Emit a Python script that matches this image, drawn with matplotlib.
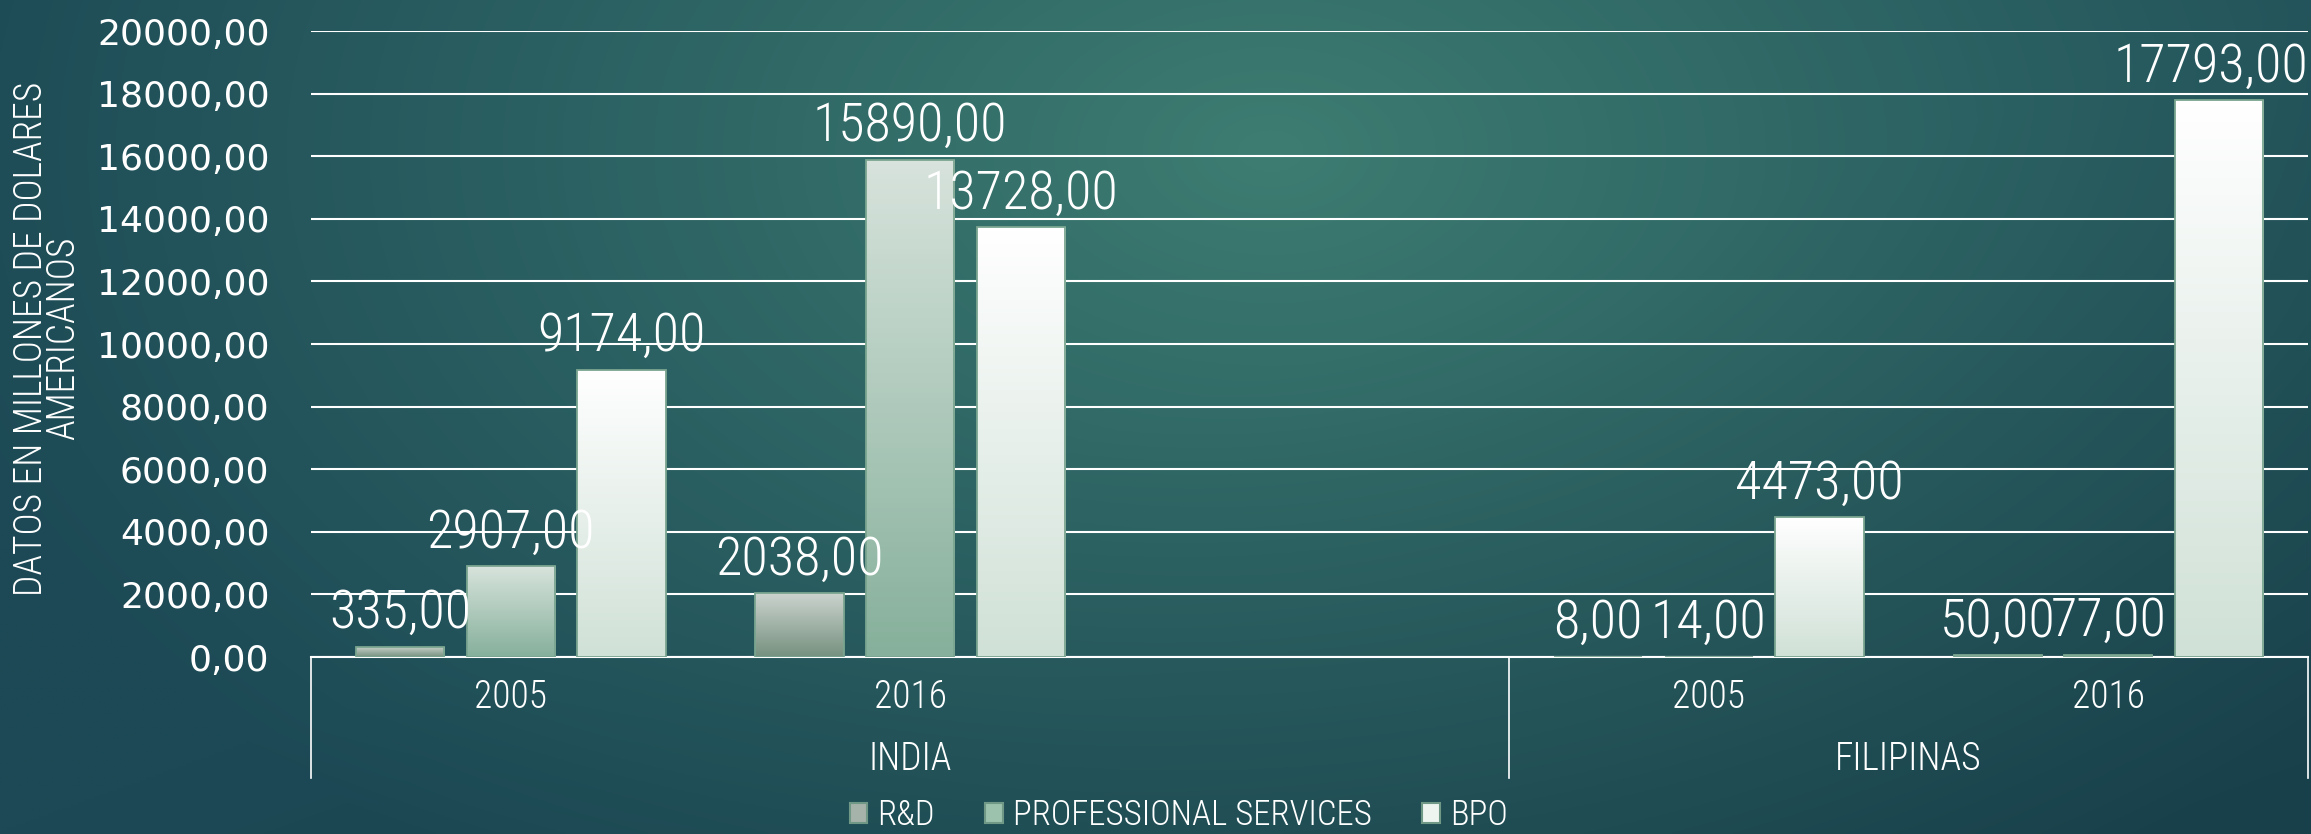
import numpy as np
import matplotlib.pyplot as plt
from matplotlib.patches import Patch
from matplotlib.colors import to_rgb

# categories (slot 3 of INDIA is empty in the original chart)
years = ['2005', '2016', '', '2005', '2016']
groups = ['INDIA', 'FILIPINAS']
series = ['R&D', 'PROFESSIONAL SERVICES', 'BPO']
rd = [335, 2038, np.nan, 8, 50]
prof = [2907, 15890, np.nan, 14, 77]
bpo = [9174, 13728, np.nan, 4473, 17793]
yticks = list(range(0, 20001, 2000))

# gradient colours (top, bottom) per series
grads = [('#cbd3ce', '#76917f'), ('#d7e3dc', '#86b09b'), ('#ffffff', '#d0e1d7')]
legend_cols = ['#a6b3ab', '#9cc1ad', '#eef5f1']

plt.rcParams['font.family'] = ['DejaVu Sans']
narrow = ['Roboto Condensed', 'Open Sans Condensed', 'Liberation Sans Narrow', 'Roboto', 'DejaVu Sans']

fig = plt.figure(figsize=(23.11, 8.34), dpi=100)

# background
bg = fig.add_axes([0, 0, 1, 1], zorder=-5)
yy, xx = np.mgrid[0:1:300j, 0:1:800j]
d = np.sqrt(((xx - 0.55) / 0.6) ** 2 + ((yy - 0.18) / 1.05) ** 2)
t = np.clip(d, 0, 1) ** 0.9
light = np.array(to_rgb('#3e7e72'))
dark = np.array(to_rgb('#1c4955'))
img = light * (1 - t[..., None]) + dark * t[..., None]
shade = np.clip((xx + yy - 1.0) * 0.12, 0, 1)[..., None]
img = img * (1 - shade)
bg.imshow(img, aspect='auto', extent=[0, 1, 0, 1])
bg.axis('off')

ax = fig.add_axes([0.1346, 0.2122, 0.8641, 0.7506])
ax.set_facecolor('none')

x = np.arange(len(years))
w = 0.221
step = 0.277
labels = []
for i, (vals, (top, bot)) in enumerate(zip([rd, prof, bpo], grads)):
    bars = ax.bar(x + (i - 1) * step, vals, w, facecolor='none',
                  edgecolor='#7aa590', linewidth=1.3, zorder=4)
    g = np.linspace(0, 1, 100)[:, None, None]
    col = np.array(to_rgb(top)) * (1 - g) + np.array(to_rgb(bot)) * g
    for rect, v in zip(bars, vals):
        if np.isnan(v):
            rect.set_visible(False)
            continue
        bx, by, bw, bh = rect.get_x(), rect.get_y(), rect.get_width(), rect.get_height()
        im = ax.imshow(col, extent=[bx, bx + bw, by, by + bh], aspect='auto', zorder=3)
        im.set_clip_path(rect)
        labels.append(ax.annotate(f'{v:.2f}'.replace('.', ','), (bx + bw / 2, by + bh),
                                  xytext=(0, 24), textcoords='offset points', ha='center',
                                  va='center', fontsize=39, color='white', family=narrow,
                                  fontweight='light', zorder=6))

ax.set_xlim(-0.5, len(years) - 0.5)
ax.set_ylim(0, 20000)
ax.set_yticks(yticks)
ax.set_yticklabels([f'{v:.2f}'.replace('.', ',') for v in yticks], fontsize=26, color='white')
ax.tick_params(axis='y', length=0, pad=30)
ax.set_xticks([])
ax.grid(axis='y', color='white', linewidth=1.5, zorder=1)
ax.set_axisbelow(True)
for s in ['left', 'right', 'top']:
    ax.spines[s].set_visible(False)
ax.spines['bottom'].set_color('white')
ax.spines['bottom'].set_linewidth(1.5)

tr = ax.get_xaxis_transform()
for xi, yl in zip(x, years):
    ax.text(xi, -0.064, yl, transform=tr, ha='center', va='center', fontsize=27,
            color='white', family=narrow, fontweight='light')
ax.text(1.0, -0.163, groups[0], transform=tr, ha='center', va='center', fontsize=27,
        color='white', family=narrow, fontweight='light')
ax.text(3.5, -0.163, groups[1], transform=tr, ha='center', va='center', fontsize=27,
        color='white', family=narrow, fontweight='light')
for sx in [-0.5, 2.5, 4.5]:
    ax.plot([sx, sx], [0, -0.193], transform=tr, color='white', lw=1.2, clip_on=False)

fig.text(0.0205, 0.594, 'DATOS EN MILLONES DE DOLARES\nAMERICANOS', rotation=90,
         ha='center', va='center', multialignment='center', fontsize=27, color='white',
         family=narrow, fontweight='light', linespacing=0.8)

handles = [Patch(facecolor=c, edgecolor='#6f9886', linewidth=1.5) for c in legend_cols]
leg = fig.legend(handles, series, loc='center', bbox_to_anchor=(0.51, 0.022), ncol=3,
                 frameon=False, handlelength=0.5, handleheight=0.5, handletextpad=0.3,
                 columnspacing=1.45, prop={'family': narrow, 'size': 25, 'weight': 'light'})
for tx in leg.get_texts():
    tx.set_color('white')

# keep value labels inside the figure
fig.canvas.draw()
fw = fig.bbox.width
for lab in labels:
    bb = lab.get_window_extent()
    if bb.x1 > fw - 3:
        ox, oy = lab.xyann
        lab.xyann = (ox - (bb.x1 - fw + 3) * 72 / fig.dpi, oy)

fig.savefig('out.png', dpi=100)
